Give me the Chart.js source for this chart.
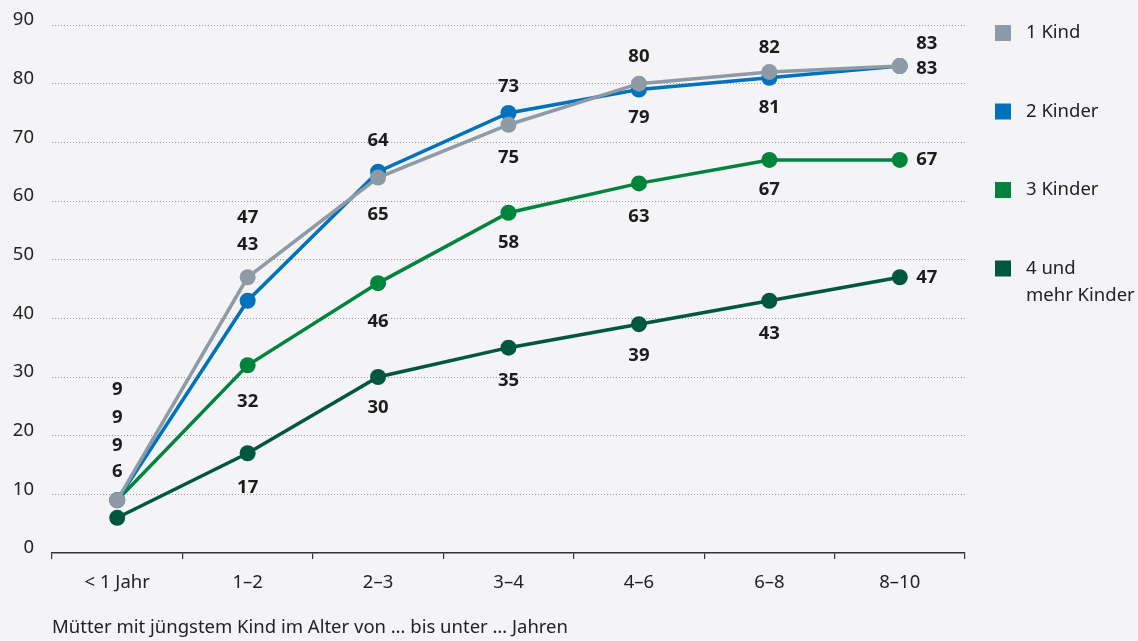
<!DOCTYPE html>
<html>
<head>
<meta charset="utf-8">
<script src="https://cdn.jsdelivr.net/npm/chart.js@4/dist/chart.umd.min.js"></script>
<style>
  html, body { margin: 0; background: #f4f3f6; }
</style>
</head>
<body>
<canvas id="chart" width="1138" height="641"></canvas>
<script>
"use strict";

// Data
const categories = ["< 1 Jahr", "1–2", "2–3", "3–4", "4–6", "6–8", "8–10"];
const seriesNames = ["1 Kind", "2 Kinder", "3 Kinder", ["4 und", "mehr Kinder"]];
const kind1 = [9, 47, 64, 73, 80, 82, 83];
const kinder2 = [9, 43, 65, 75, 79, 81, 83];
const kinder3 = [9, 32, 46, 58, 63, 67, 67];
const kinder4 = [6, 17, 30, 35, 39, 43, 47];
const yTicks = [0, 10, 20, 30, 40, 50, 60, 70, 80, 90];
const axisTitle = "Mütter mit jüngstem Kind im Alter von … bis unter … Jahren";

const colors = ["#8e9ba6", "#0072bc", "#00843d", "#00573f"];
const fontFamily = "'Noto Sans', 'DejaVu Sans', sans-serif";
const fontSize = 18.5;

// label offsets (px) from each point, per series
const labelOffsets = [
    [[0, -110], [0, -60], [0, -37], [0, -38], [0, -27], [0, -24], [27, -22]],
    [[0, -82], [0, -56], [0, 43], [0, 45], [0, 28], [0, 30], [27, 3]],
    [[0, -54], [0, 36], [0, 39], [0, 30], [0, 33], [0, 30], [27, 0]],
    [[0, -46], [0, 34], [0, 31], [0, 33], [0, 32], [0, 33], [27, 0]]
];

const seriesData = [kind1, kinder2, kinder3, kinder4];

const data = {
    labels: categories,
    datasets: seriesData.map((values, i) => ({
        label: Array.isArray(seriesNames[i]) ? seriesNames[i].join(" ") : seriesNames[i],
        data: values,
        borderColor: colors[i],
        backgroundColor: colors[i],
        borderWidth: 3.5,
        pointRadius: 8,
        pointHoverRadius: 8,
        pointBorderWidth: 0,
        tension: 0
    }))
};

// Value labels next to the points
const valueLabels = {
    id: 'valueLabels',
    afterDatasetsDraw(chart) {
        const ctx = chart.ctx;
        ctx.save();
        ctx.font = "bold " + fontSize + "px " + fontFamily;
        ctx.fillStyle = "#1c1c1c";
        ctx.textAlign = "center";
        ctx.textBaseline = "middle";
        chart.data.datasets.forEach((ds, i) => {
            chart.getDatasetMeta(i).data.forEach((pt, j) => {
                const off = labelOffsets[i][j];
                ctx.fillText(ds.data[j], pt.x + off[0], pt.y + off[1]);
            });
        });
        ctx.restore();
    }
};

// Legend on the right
const sideLegend = {
    id: 'sideLegend',
    afterDraw(chart) {
        const ctx = chart.ctx;
        const x = chart.chartArea.right + 30;
        ctx.save();
        ctx.font = fontSize + "px " + fontFamily;
        ctx.textBaseline = "middle";
        ctx.textAlign = "left";
        seriesNames.forEach((name, i) => {
            const y = 33 + i * 78.5;
            ctx.fillStyle = colors[i];
            ctx.fillRect(x, y - 8, 16, 16);
            ctx.fillStyle = "#222";
            const lines = Array.isArray(name) ? name : [name];
            lines.forEach((line, k) => ctx.fillText(line, x + 31, y + k * 27));
        });
        ctx.restore();
    }
};

const config = {
    type: 'line',
    data: data,
    options: {
        responsive: false,
        animation: false,
        layout: { padding: { left: 0, right: 173, top: 25, bottom: 2 } },
        plugins: {
            legend: { display: false },
            tooltip: { enabled: false }
        },
        scales: {
            x: {
                offset: true,
                afterFit: scale => { scale.height = 86; },
                grid: {
                    offset: true,
                    drawOnChartArea: false,
                    drawTicks: true,
                    tickLength: 6,
                    color: "#333",
                    lineWidth: 1.2
                },
                border: { display: true, color: "#333", width: 1.5 },
                ticks: {
                    padding: 13,
                    color: "#222",
                    font: { family: fontFamily, size: fontSize }
                },
                title: {
                    display: true,
                    text: axisTitle,
                    align: 'start',
                    color: "#222",
                    font: { family: fontFamily, size: fontSize },
                    padding: { top: 20, bottom: 0 }
                }
            },
            y: {
                min: yTicks[0],
                max: yTicks[yTicks.length - 1],
                afterFit: scale => {
                    scale.width = 52;
                    scale.paddingTop = 0;
                    scale.paddingBottom = 0;
                },
                afterBuildTicks: scale => { scale.ticks = yTicks.map(v => ({ value: v })); },
                grid: {
                    drawTicks: false,
                    color: ctx => ctx.tick.value === 0 ? "rgba(0,0,0,0)" : "#9c9c9c",
                    lineWidth: 1
                },
                border: { display: false, dash: [1, 2] },
                ticks: {
                    padding: 18,
                    labelOffset: -5,
                    color: "#222",
                    font: { family: fontFamily, size: fontSize }
                }
            }
        }
    },
    plugins: [valueLabels, sideLegend]
};

const myChart = new Chart(document.getElementById("chart"), config);
</script>
</body>
</html>
